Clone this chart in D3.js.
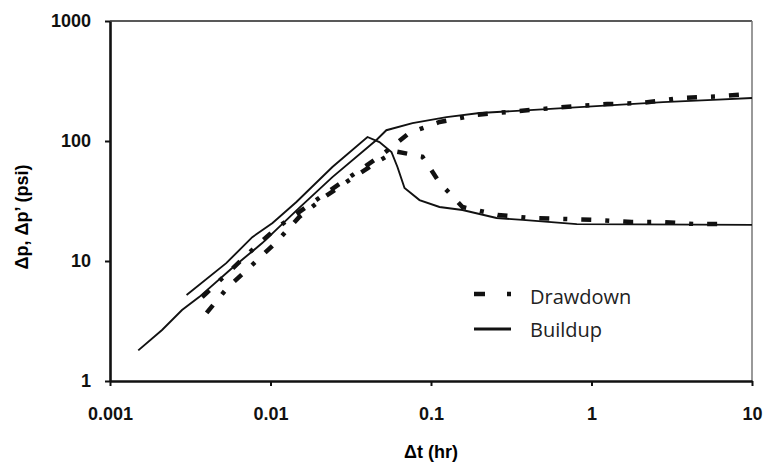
<!DOCTYPE html>
<html>
<head>
<meta charset="utf-8">
<script src="https://cdn.jsdelivr.net/npm/d3@7"></script>
<style>
  body { margin: 0; background: #fff; }
  svg { display: block; }
  .tick text { font-family: "Liberation Sans", Arial, sans-serif; font-weight: bold; font-size: 18px; fill: #111; }
</style>
</head>
<body>
<div id="chart"></div>
<script>
// tick values
const xTicks = [0.001, 0.01, 0.1, 1, 10];
const yTicks = [1, 10, 100, 1000];

// buildup (solid) - pressure change and derivative
const buildupDpTime = [0.0015, 0.00211, 0.00281, 0.00359, 0.00577, 0.00888, 0.0151, 0.0243, 0.0457, 0.0527, 0.0767, 0.125, 0.201, 0.412, 0.662, 1.73, 2.79, 5.7, 10];
const buildupDp = [1.8, 2.66, 3.9, 5.0, 8.75, 14.1, 27.7, 50, 102, 123, 141, 158, 171, 181, 188, 203, 211, 220, 228];
const buildupDerivTime = [0.003, 0.0053, 0.0077, 0.0103, 0.0145, 0.0243, 0.0402, 0.0477, 0.0567, 0.0618, 0.0684, 0.0848, 0.113, 0.157, 0.256, 0.372, 0.81, 2.0, 10];
const buildupDeriv = [5.2, 9.6, 15.8, 20.7, 31, 60.7, 108, 98, 81, 60.7, 40.6, 32.2, 28.2, 26.6, 22.8, 22, 20.3, 20.2, 20];

// drawdown (dash-dot)
const drawdownDpTime = [0.00375, 0.0055, 0.0077, 0.0109, 0.0167, 0.0223, 0.0324, 0.0491, 0.0735, 0.113, 0.192, 0.309, 0.497, 0.809, 1.25, 2.0, 3.56, 6.05, 9.0];
const drawdownDp = [5.0, 8.1, 12.4, 18.8, 28.2, 37, 52, 76, 117, 144, 165, 175, 185, 196, 203, 207, 228, 235, 245];
const drawdownDerivTime = [0.004, 0.0054, 0.0077, 0.0109, 0.0151, 0.0223, 0.033, 0.049, 0.06, 0.0885, 0.113, 0.157, 0.26, 0.42, 0.68, 1.09, 1.78, 2.79, 4.54, 7.29];
const drawdownDeriv = [3.7, 6.0, 9.3, 14.4, 23.3, 35, 50, 70, 82, 74, 45, 28.2, 24.2, 22.8, 22.4, 22, 21.1, 21.1, 20.3, 20.3];

const legendLabels = ["Drawdown", "Buildup"];

const margin = { top: 21, right: 16, bottom: 85, left: 110 };
const width = 768 - margin.left - margin.right;
const height = 466 - margin.top - margin.bottom;

const svg = d3
  .select("#chart")
  .append("svg")
  .attr("width", 768)
  .attr("height", 466);

const g = svg.append("g").attr("transform", `translate(${margin.left},${margin.top})`);

const x = d3.scaleLog().domain([0.001, 10]).range([0, width]);
const y = d3.scaleLog().domain([1, 1000]).range([height, 0]);

// frame: thin top, grey right
g.append("line").attr("x1", 0).attr("x2", width).attr("y1", 0).attr("y2", 0)
  .attr("stroke", "#222").attr("stroke-width", 1.3);
g.append("line").attr("x1", width).attr("x2", width).attr("y1", 0).attr("y2", height)
  .attr("stroke", "#777").attr("stroke-width", 1.5);

// axes
const xAxis = g.append("g")
  .attr("transform", `translate(0,${height})`)
  .call(d3.axisBottom(x).tickValues(xTicks).tickFormat(d3.format("")).tickSize(5).tickSizeOuter(0).tickPadding(21));
const yAxis = g.append("g")
  .call(d3.axisLeft(y).tickValues(yTicks).tickFormat(d3.format("")).tickSize(5).tickSizeOuter(0).tickPadding(14));

[xAxis, yAxis].forEach((a) => {
  a.select(".domain").attr("stroke", "#111").attr("stroke-width", 2.6);
  a.selectAll(".tick line").attr("stroke", "#111").attr("stroke-width", 2);
});

const line = d3.line().x((d) => x(d[0])).y((d) => y(d[1]));
const zip = (t, v) => t.map((d, i) => [d, v[i]]);

// buildup curves
[zip(buildupDpTime, buildupDp), zip(buildupDerivTime, buildupDeriv)].forEach((pts) => {
  g.append("path").datum(pts)
    .attr("d", line)
    .attr("fill", "none")
    .attr("stroke", "#111")
    .attr("stroke-width", 1.9);
});

// drawdown curves
[zip(drawdownDpTime, drawdownDp), zip(drawdownDerivTime, drawdownDeriv)].forEach((pts) => {
  g.append("path").datum(pts)
    .attr("d", line)
    .attr("fill", "none")
    .attr("stroke", "#111")
    .attr("stroke-width", 4.5)
    .attr("stroke-dasharray", "10,14,4,14");
});

// legend
const legend = svg.append("g").attr("transform", "translate(474,294)");
legend.append("line").attr("x1", 0).attr("x2", 37).attr("y1", 0).attr("y2", 0)
  .attr("stroke", "#111").attr("stroke-width", 4.5).attr("stroke-dasharray", "11,22,4,22");
legend.append("line").attr("x1", 0).attr("x2", 37).attr("y1", 35).attr("y2", 35)
  .attr("stroke", "#111").attr("stroke-width", 3);
legend.selectAll("text.lg")
  .data(legendLabels)
  .enter()
  .append("text")
  .attr("class", "lg")
  .attr("x", 56)
  .attr("y", (d, i) => i * 33 + 3)
  .attr("dy", "0.35em")
  .style("font-family", "'Open Sans', sans-serif")
  .style("font-size", "20px")
  .style("fill", "#222")
  .text((d) => d);

// axis titles
svg.append("text")
  .attr("x", margin.left + width / 2)
  .attr("y", 458)
  .attr("text-anchor", "middle")
  .style("font-family", "'Liberation Sans', Arial, sans-serif")
  .style("font-weight", "bold")
  .style("font-size", "18px")
  .text("Δt (hr)");

svg.append("text")
  .attr("transform", "translate(28,217) rotate(-90)")
  .attr("text-anchor", "middle")
  .style("font-family", "'Liberation Sans', Arial, sans-serif")
  .style("font-weight", "bold")
  .style("font-size", "18px")
  .text("Δp, Δp’ (psi)");
</script>
</body>
</html>
